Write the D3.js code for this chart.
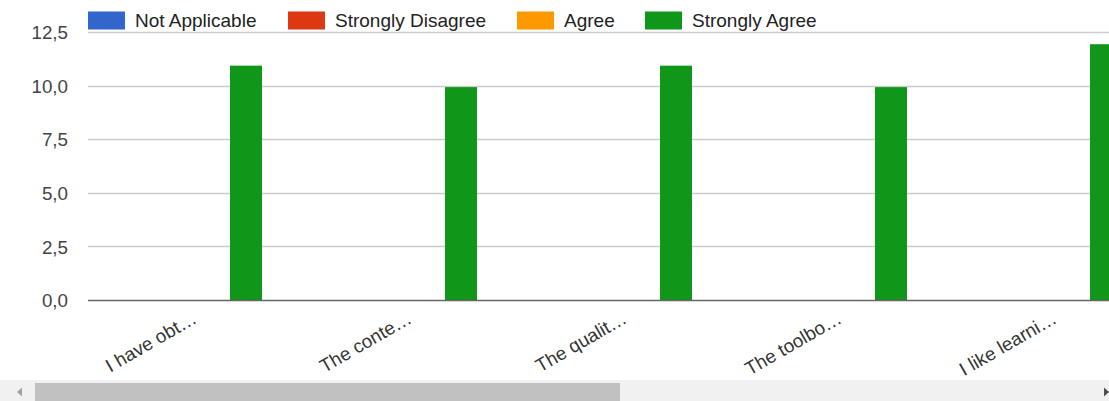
<!DOCTYPE html>
<html>
<head>
<meta charset="utf-8">
<script src="https://cdn.jsdelivr.net/npm/d3@7"></script>
<style>
  html, body { margin: 0; padding: 0; background: #fff; overflow: hidden; }
  svg { display: block; font-family: "Liberation Sans", Arial, sans-serif; }
</style>
</head>
<body>
<svg id="chart" width="1109" height="401"></svg>
<script>
const categories = ["I have obt…", "The conte…", "The qualit…", "The toolbo…", "I like learni…"];
const seriesNames = ["Not Applicable", "Strongly Disagree", "Agree", "Strongly Agree"];
const notApplicable = [0, 0, 0, 0, 0];
const stronglyDisagree = [0, 0, 0, 0, 0];
const agree = [0, 0, 0, 0, 0];
const stronglyAgree = [11, 10, 11, 10, 12];
const yTicks = [0, 2.5, 5, 7.5, 10, 12.5];
const colors = ["#3366cc", "#dc3912", "#ff9900", "#109618"];

const seriesValues = [notApplicable, stronglyDisagree, agree, stronglyAgree];

const W = 1109, H = 401;
const svg = d3.select("#chart");
const plotLeft = 88, plotRight = W, baseY = 300, topY = 32;

const y = d3.scaleLinear().domain([0, 12.5]).range([baseY, topY]);
const x0 = d3.scaleBand().domain(categories).range([90.5, 90.5 + 215 * categories.length]).paddingInner(0);
const groupW = 128;
const x1 = d3.scaleBand().domain(seriesNames).range([0, groupW]);

const fmt = v => d3.format(".1f")(v).replace(".", ",");

// gridlines
svg.append("g").selectAll("line").data(yTicks.filter(t => t > 0)).join("line")
  .attr("x1", plotLeft).attr("x2", plotRight)
  .attr("y1", d => Math.round(y(d)) + 0.5).attr("y2", d => Math.round(y(d)) + 0.5)
  .attr("stroke", "#cccccc").attr("stroke-width", 1.3);

// y axis labels
const yAxis = d3.axisLeft(y).tickValues(yTicks).tickFormat(fmt).tickSize(0).tickPadding(0);
const yg = svg.append("g").attr("transform", `translate(68,0)`).call(yAxis);
yg.select(".domain").remove();
yg.selectAll("text").attr("font-size", 18.8).attr("fill", "#444").attr("font-family", "Liberation Sans, Arial, sans-serif").attr("dy", "0.36em");

// bars
const data = [];
categories.forEach((c, i) => seriesNames.forEach((s, j) => data.push({c, s, v: seriesValues[j][i], j})));
svg.append("g").selectAll("rect").data(data.filter(d => d.v > 0)).join("rect")
  .attr("x", d => x0(d.c) + (x0.bandwidth() - groupW) / 2 + x1(d.s))
  .attr("width", x1.bandwidth())
  .attr("y", d => y(d.v) + 1.5)
  .attr("height", d => y(0) - y(d.v) - 1.5)
  .attr("fill", d => colors[d.j]);

// baseline
svg.append("line").attr("x1", plotLeft).attr("x2", plotRight)
  .attr("y1", baseY + 0.5).attr("y2", baseY + 0.5)
  .attr("stroke", "#666").attr("stroke-width", 1.6);

// x labels
const xAxis = d3.axisBottom(x0).tickSize(0).tickPadding(0);
const xg = svg.append("g").attr("transform", `translate(0,${baseY})`).call(xAxis);
xg.select(".domain").remove();
xg.selectAll("text")
  .attr("font-size", 18.8).attr("fill", "#333").attr("font-family", "Liberation Sans, Arial, sans-serif")
  .attr("text-anchor", "end").attr("dy", 0).attr("y", 0)
  .attr("transform", "translate(0,22) rotate(-30)");

// legend
const legendX = [88, 288, 517, 645];
const lg = svg.append("g").selectAll("g").data(seriesNames).join("g")
  .attr("transform", (d, i) => `translate(${legendX[i]},0)`);
lg.append("rect").attr("x", 0).attr("y", 11.5).attr("width", 37).attr("height", 18)
  .attr("fill", (d, i) => colors[i]);
lg.append("text").attr("x", 47).attr("y", 27).text(d => d)
  .attr("font-size", 19).attr("fill", "#222");

// scrollbar
const sb = svg.append("g");
sb.append("rect").attr("x", 0).attr("y", 380).attr("width", W).attr("height", 21).attr("fill", "#f1f1f1");
sb.append("rect").attr("x", 35).attr("y", 383).attr("width", 585).attr("height", 18).attr("fill", "#c1c1c1");
sb.append("path").attr("d", "M17,392 L22,387.5 L22,396.5 Z").attr("fill", "#a3a3a3");
sb.append("path").attr("d", "M1109,392 L1104,387.5 L1104,396.5 Z").attr("fill", "#505050");
</script>
</body>
</html>
